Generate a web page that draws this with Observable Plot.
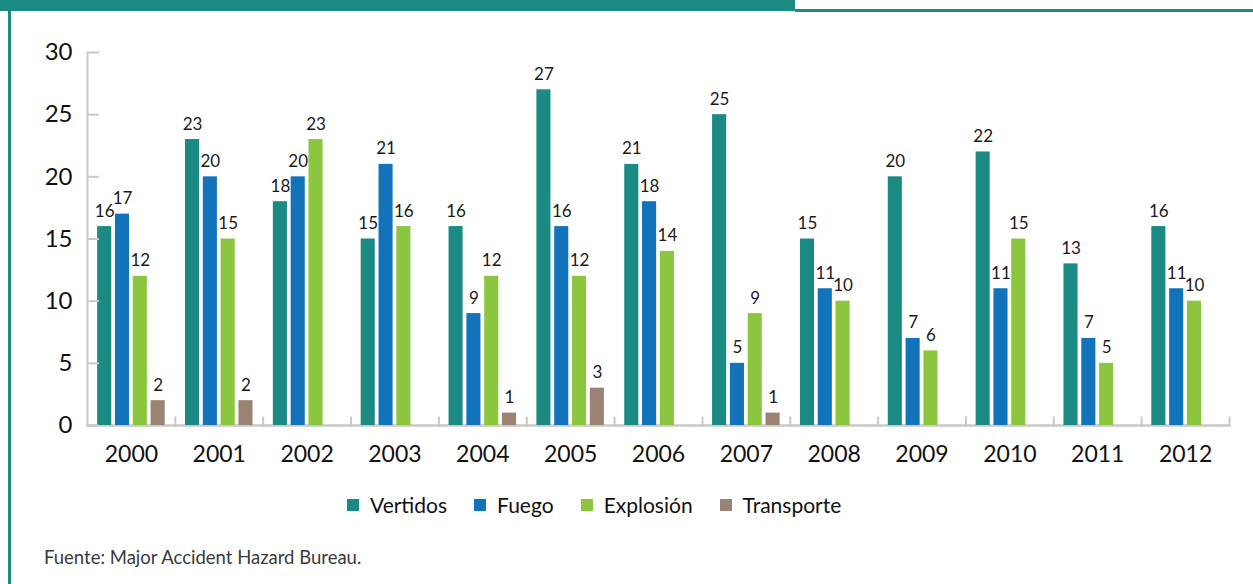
<!DOCTYPE html>
<html><head><meta charset="utf-8">
<script src="https://cdn.jsdelivr.net/npm/d3@7"></script>
<script src="https://cdn.jsdelivr.net/npm/@observablehq/plot@0.6"></script>
<style>
body{margin:0;background:#fff;}
#wrap{position:relative;width:1253px;height:584px;overflow:hidden;font-family:Lato,"Noto Sans",sans-serif;}
.deco{position:absolute;background:#1a8a82;}
#chart{position:absolute;left:0;top:0;}
#legend{position:absolute;left:347px;top:488px;}
#source{position:absolute;left:44px;top:546px;font-size:18.5px;color:#3a3a3a;}
.lg-swatch{margin-right:27px !important;}
.lg-swatch > svg{margin-right:11px !important;}
</style>
</head><body>
<div id="wrap">
  <div class="deco" style="left:0;top:0;width:795px;height:11px"></div>
  <div class="deco" style="left:795px;top:9px;width:458px;height:2.5px"></div>
  <div class="deco" style="left:8px;top:11px;width:3px;height:573px"></div>
  <div id="chart"></div>
  <div id="legend"></div>
  <div id="source">Fuente: Major Accident Hazard Bureau.</div>
</div>
<script>
const years = ["2000","2001","2002","2003","2004","2005","2006","2007","2008","2009","2010","2011","2012"];
const series = ["Vertidos","Fuego","Explosión","Transporte"];
const colors = ["#1a8a82","#1273bb","#8cc63f","#9b8374"];
const vertidos   = [16,23,18,15,16,27,21,25,15,20,22,13,16];
const fuego      = [17,20,20,21, 9,16,18, 5,11, 7,11, 7,11];
const explosion  = [12,15,23,16,12,12,14, 9,10, 6,15, 5,10];
const transporte = [ 2, 2,null,null, 1, 3,null, 1,null,null,null,null,null];
const yTicks = [0,5,10,15,20,25,30];

const valuesBySeries = [vertidos, fuego, explosion, transporte];
const rows = years.flatMap((year, i) =>
  series.map((s, j) => ({year, series: s, value: valuesBySeries[j][i]}))
        .filter(d => d.value != null));

const font = "Lato, 'Noto Sans', sans-serif";
const chart = Plot.plot({
  width: 1253, height: 475,
  marginTop: 52, marginBottom: 50, marginLeft: 87, marginRight: 24,
  style: {fontFamily: font, background: "transparent", overflow: "visible"},
  fx: {domain: years, padding: 0, round: false, label: null},
  x: {domain: series, paddingInner: 0.21, paddingOuter: 0.57, round: false, axis: null},
  y: {domain: [0, 30]},
  color: {domain: series, range: colors},
  marks: [
    Plot.frame({anchor: "bottom", stroke: "#c9c9c9", strokeWidth: 2.5}),
    Plot.frame({anchor: "right", insetTop: 365, stroke: "#c9c9c9", strokeWidth: 2}),
    Plot.frame({anchor: "left", facetAnchor: "left", stroke: "#c9c9c9", strokeWidth: 2}),
    Plot.barY(rows, {fx: "year", x: "series", y: "value", fill: "series"}),
    Plot.text(rows, {fx: "year", x: "series", y: "value", text: d => String(d.value),
      lineAnchor: "bottom", dy: -10, fontSize: 17, fill: "#1a1a1a"}),
    Plot.axisY({ticks: yTicks, tickSize: -12, tickPadding: 27, stroke: "#c9c9c9", strokeWidth: 2,
      fill: "#111", fontSize: 24, label: null}),
    Plot.axisFx({anchor: "bottom", tickSize: 0, tickPadding: 20, fontSize: 23, fill: "#111", label: null})
  ]
});
document.getElementById("chart").append(chart);

const legend = Plot.legend({
  color: {domain: series, range: colors},
  swatchSize: 12, className: "lg",
  style: {fontSize: "21px", fontFamily: font, color: "#111"}
});
document.getElementById("legend").append(legend);
</script>
</body></html>
